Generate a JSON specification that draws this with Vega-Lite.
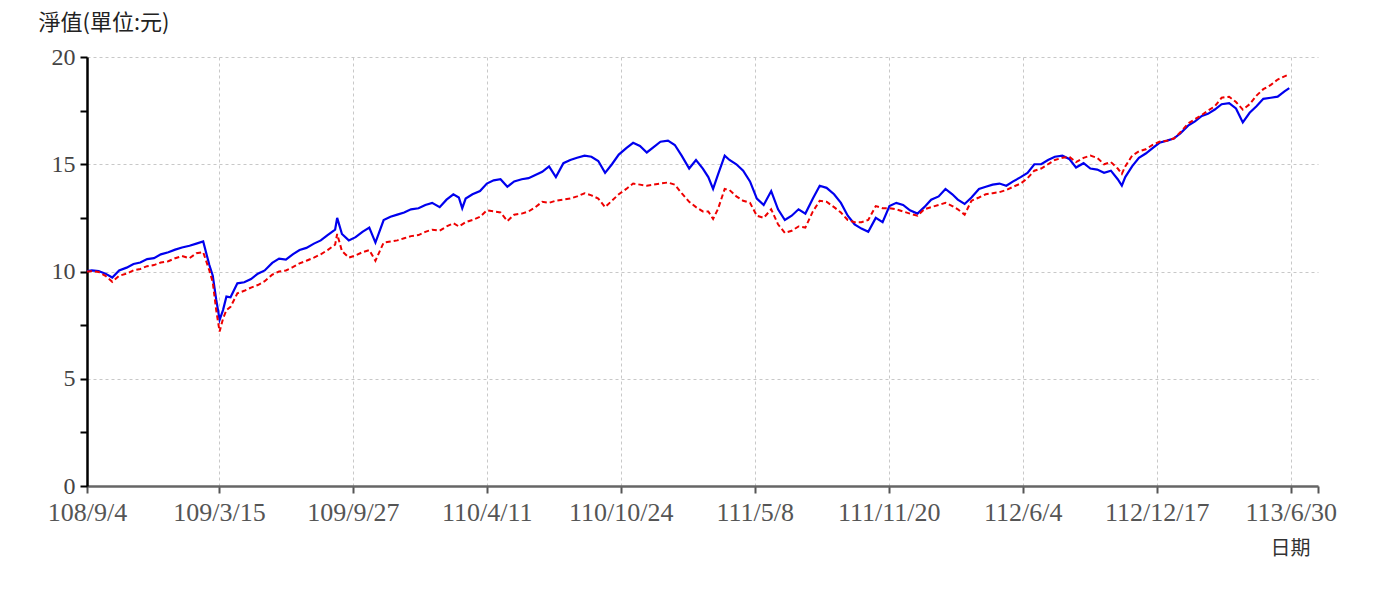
{
  "$schema": "https://vega.github.io/schema/vega-lite/v6.json",
  "autosize": {"type": "none"},
  "width": 1231,
  "height": 429,
  "padding": {"left": 87, "top": 57, "right": 56, "bottom": 105},
  "background": "white",
  "config": {
    "view": {"stroke": null},
    "axis": {"labelFont": "Liberation Serif", "labelFontSize": 26, "labelColor": "#555", "titleFont": "Noto Sans CJK TC", "titleFontWeight": "normal"}
  },
  "data": {"values": [
    {"d":"2019-09-04","a":10.02,"b":10.00},{"d":"2019-09-11","a":10.05,"b":10.01},{"d":"2019-09-21","a":10.02,"b":9.98},
    {"d":"2019-10-01","a":9.90,"b":9.80},{"d":"2019-10-11","a":9.72,"b":9.52},{"d":"2019-10-21","a":10.05,"b":9.80},
    {"d":"2019-11-01","a":10.18,"b":9.90},{"d":"2019-11-11","a":10.35,"b":10.05},{"d":"2019-11-21","a":10.42,"b":10.12},
    {"d":"2019-12-01","a":10.58,"b":10.25},{"d":"2019-12-11","a":10.62,"b":10.30},{"d":"2019-12-21","a":10.80,"b":10.42},
    {"d":"2020-01-01","a":10.90,"b":10.48},{"d":"2020-01-11","a":11.02,"b":10.62},{"d":"2020-01-21","a":11.12,"b":10.72},
    {"d":"2020-02-01","a":11.20,"b":10.62},{"d":"2020-02-11","a":11.30,"b":10.85},{"d":"2020-02-21","a":11.40,"b":10.90},
    {"d":"2020-03-01","a":10.30,"b":10.05},{"d":"2020-03-06","a":9.80,"b":9.50},{"d":"2020-03-11","a":8.70,"b":8.20},{"d":"2020-03-16","a":7.75,"b":7.20},{"d":"2020-03-21","a":8.20,"b":7.80},{"d":"2020-03-26","a":8.83,"b":8.20},
    {"d":"2020-04-01","a":8.80,"b":8.35},{"d":"2020-04-11","a":9.45,"b":8.98},{"d":"2020-04-21","a":9.50,"b":9.10},
    {"d":"2020-05-01","a":9.65,"b":9.25},{"d":"2020-05-11","a":9.90,"b":9.37},{"d":"2020-05-21","a":10.05,"b":9.55},
    {"d":"2020-06-01","a":10.40,"b":9.85},{"d":"2020-06-11","a":10.60,"b":10.00},{"d":"2020-06-21","a":10.55,"b":10.05},
    {"d":"2020-07-01","a":10.80,"b":10.20},{"d":"2020-07-11","a":11.00,"b":10.38},{"d":"2020-07-21","a":11.10,"b":10.50},
    {"d":"2020-08-01","a":11.30,"b":10.65},{"d":"2020-08-11","a":11.45,"b":10.80},{"d":"2020-08-21","a":11.70,"b":11.00},
    {"d":"2020-09-01","a":11.95,"b":11.25},{"d":"2020-09-04","a":12.50,"b":11.75},{"d":"2020-09-11","a":11.75,"b":10.95},{"d":"2020-09-21","a":11.45,"b":10.65},
    {"d":"2020-10-01","a":11.60,"b":10.75},{"d":"2020-10-11","a":11.85,"b":10.90},{"d":"2020-10-21","a":12.05,"b":11.00},{"d":"2020-10-30","a":11.35,"b":10.50},
    {"d":"2020-11-11","a":12.40,"b":11.35},{"d":"2020-11-21","a":12.55,"b":11.40},
    {"d":"2020-12-01","a":12.65,"b":11.45},{"d":"2020-12-11","a":12.75,"b":11.55},{"d":"2020-12-21","a":12.90,"b":11.65},
    {"d":"2021-01-01","a":12.95,"b":11.70},{"d":"2021-01-11","a":13.10,"b":11.85},{"d":"2021-01-21","a":13.20,"b":11.95},
    {"d":"2021-02-01","a":13.00,"b":11.90},{"d":"2021-02-11","a":13.35,"b":12.10},{"d":"2021-02-21","a":13.60,"b":12.25},
    {"d":"2021-03-01","a":13.45,"b":12.10},{"d":"2021-03-06","a":12.95,"b":12.20},{"d":"2021-03-11","a":13.40,"b":12.30},{"d":"2021-03-21","a":13.60,"b":12.40},
    {"d":"2021-04-01","a":13.75,"b":12.55},{"d":"2021-04-11","a":14.10,"b":12.85},{"d":"2021-04-21","a":14.25,"b":12.80},
    {"d":"2021-05-01","a":14.30,"b":12.75},{"d":"2021-05-11","a":13.95,"b":12.35},{"d":"2021-05-21","a":14.20,"b":12.65},
    {"d":"2021-06-01","a":14.30,"b":12.70},{"d":"2021-06-11","a":14.35,"b":12.80},{"d":"2021-06-21","a":14.50,"b":13.00},
    {"d":"2021-07-01","a":14.65,"b":13.25},{"d":"2021-07-11","a":14.90,"b":13.20},{"d":"2021-07-21","a":14.40,"b":13.30},
    {"d":"2021-08-01","a":15.05,"b":13.35},{"d":"2021-08-11","a":15.20,"b":13.40},{"d":"2021-08-21","a":15.30,"b":13.50},
    {"d":"2021-09-01","a":15.40,"b":13.65},{"d":"2021-09-11","a":15.35,"b":13.55},{"d":"2021-09-21","a":15.15,"b":13.40},
    {"d":"2021-10-01","a":14.60,"b":13.00},{"d":"2021-10-11","a":15.00,"b":13.30},{"d":"2021-10-21","a":15.45,"b":13.60},
    {"d":"2021-11-01","a":15.75,"b":13.85},{"d":"2021-11-11","a":16.00,"b":14.10},{"d":"2021-11-21","a":15.85,"b":14.05},
    {"d":"2021-12-01","a":15.55,"b":14.00},{"d":"2021-12-11","a":15.80,"b":14.05},{"d":"2021-12-21","a":16.05,"b":14.10},
    {"d":"2022-01-01","a":16.10,"b":14.15},{"d":"2022-01-11","a":15.90,"b":14.05},{"d":"2022-01-21","a":15.40,"b":13.65},
    {"d":"2022-02-01","a":14.80,"b":13.25},{"d":"2022-02-11","a":15.20,"b":13.00},{"d":"2022-02-21","a":14.80,"b":12.80},
    {"d":"2022-03-01","a":14.40,"b":12.80},{"d":"2022-03-08","a":13.85,"b":12.45},{"d":"2022-03-15","a":14.50,"b":12.90},{"d":"2022-03-25","a":15.40,"b":13.85},
    {"d":"2022-04-01","a":15.20,"b":13.80},{"d":"2022-04-11","a":15.00,"b":13.50},{"d":"2022-04-21","a":14.70,"b":13.30},
    {"d":"2022-05-01","a":14.20,"b":13.20},{"d":"2022-05-11","a":13.40,"b":12.60},{"d":"2022-05-21","a":13.10,"b":12.50},
    {"d":"2022-06-01","a":13.75,"b":12.90},{"d":"2022-06-11","a":12.90,"b":12.20},{"d":"2022-06-21","a":12.40,"b":11.80},
    {"d":"2022-07-01","a":12.60,"b":11.90},{"d":"2022-07-11","a":12.90,"b":12.10},{"d":"2022-07-21","a":12.70,"b":12.05},
    {"d":"2022-08-01","a":13.40,"b":12.80},{"d":"2022-08-11","a":14.00,"b":13.30},{"d":"2022-08-21","a":13.90,"b":13.25},
    {"d":"2022-09-01","a":13.60,"b":13.00},{"d":"2022-09-11","a":13.20,"b":12.75},{"d":"2022-09-21","a":12.60,"b":12.40},
    {"d":"2022-10-01","a":12.20,"b":12.30},{"d":"2022-10-11","a":12.00,"b":12.30},{"d":"2022-10-21","a":11.85,"b":12.40},
    {"d":"2022-11-01","a":12.50,"b":13.05},{"d":"2022-11-11","a":12.30,"b":12.95},{"d":"2022-11-21","a":13.05,"b":12.95},
    {"d":"2022-12-01","a":13.20,"b":12.90},{"d":"2022-12-11","a":13.10,"b":12.80},{"d":"2022-12-21","a":12.85,"b":12.70},
    {"d":"2023-01-01","a":12.70,"b":12.60},{"d":"2023-01-11","a":13.00,"b":12.90},{"d":"2023-01-21","a":13.35,"b":13.00},
    {"d":"2023-02-01","a":13.50,"b":13.10},{"d":"2023-02-11","a":13.85,"b":13.20},{"d":"2023-02-21","a":13.60,"b":13.05},
    {"d":"2023-03-01","a":13.35,"b":12.90},{"d":"2023-03-11","a":13.15,"b":12.65},{"d":"2023-03-21","a":13.45,"b":13.30},
    {"d":"2023-04-01","a":13.85,"b":13.45},{"d":"2023-04-11","a":13.95,"b":13.60},{"d":"2023-04-21","a":14.05,"b":13.65},
    {"d":"2023-05-01","a":14.10,"b":13.70},{"d":"2023-05-11","a":14.00,"b":13.80},{"d":"2023-05-21","a":14.20,"b":13.95},
    {"d":"2023-06-01","a":14.40,"b":14.10},{"d":"2023-06-11","a":14.60,"b":14.35},{"d":"2023-06-21","a":15.00,"b":14.70},
    {"d":"2023-07-01","a":15.00,"b":14.80},{"d":"2023-07-11","a":15.20,"b":15.00},{"d":"2023-07-21","a":15.35,"b":15.20},
    {"d":"2023-08-01","a":15.40,"b":15.30},{"d":"2023-08-11","a":15.25,"b":15.35},{"d":"2023-08-21","a":14.85,"b":15.10},
    {"d":"2023-09-01","a":15.05,"b":15.30},{"d":"2023-09-11","a":14.80,"b":15.40},{"d":"2023-09-21","a":14.75,"b":15.30},
    {"d":"2023-10-01","a":14.60,"b":15.00},{"d":"2023-10-11","a":14.70,"b":15.10},{"d":"2023-10-21","a":14.30,"b":14.80},{"d":"2023-10-27","a":14.00,"b":14.55},
    {"d":"2023-11-01","a":14.40,"b":14.90},{"d":"2023-11-11","a":14.90,"b":15.40},{"d":"2023-11-21","a":15.30,"b":15.60},
    {"d":"2023-12-01","a":15.50,"b":15.70},{"d":"2023-12-11","a":15.75,"b":15.90},{"d":"2023-12-21","a":16.00,"b":16.05},
    {"d":"2024-01-01","a":16.10,"b":16.10},{"d":"2024-01-11","a":16.20,"b":16.20},{"d":"2024-01-21","a":16.45,"b":16.50},
    {"d":"2024-02-01","a":16.80,"b":16.90},{"d":"2024-02-11","a":17.00,"b":17.10},{"d":"2024-02-21","a":17.25,"b":17.30},
    {"d":"2024-03-01","a":17.35,"b":17.50},{"d":"2024-03-11","a":17.55,"b":17.70},{"d":"2024-03-21","a":17.80,"b":18.10},
    {"d":"2024-04-01","a":17.85,"b":18.15},{"d":"2024-04-11","a":17.60,"b":17.90},{"d":"2024-04-21","a":16.95,"b":17.55},
    {"d":"2024-05-01","a":17.40,"b":17.80},{"d":"2024-05-11","a":17.70,"b":18.20},{"d":"2024-05-21","a":18.05,"b":18.50},
    {"d":"2024-06-01","a":18.10,"b":18.70},{"d":"2024-06-11","a":18.15,"b":18.95},{"d":"2024-06-21","a":18.40,"b":19.10},{"d":"2024-06-28","a":18.55,"b":19.20}
  ]},
  "encoding": {
    "x": {
      "field": "d", "type": "temporal",
      "scale": {"type": "utc", "domain": [{"year":2019,"month":9,"date":4,"utc":true},{"year":2024,"month":8,"date":9,"utc":true}]},
      "axis": {
        "title": "日期",
        "titleFontSize": 20, "titleColor": "#333",
        "titleAnchor": "end", "titleAlign": "right", "titleBaseline": "middle",
        "titleX": 1223, "titleY": 62,
        "values": [
          {"year":2019,"month":9,"date":4,"utc":true},
          {"year":2020,"month":3,"date":15,"utc":true},
          {"year":2020,"month":9,"date":27,"utc":true},
          {"year":2021,"month":4,"date":11,"utc":true},
          {"year":2021,"month":10,"date":24,"utc":true},
          {"year":2022,"month":5,"date":8,"utc":true},
          {"year":2022,"month":11,"date":20,"utc":true},
          {"year":2023,"month":6,"date":4,"utc":true},
          {"year":2023,"month":12,"date":17,"utc":true},
          {"year":2024,"month":6,"date":30,"utc":true},
          {"year":2024,"month":8,"date":9,"utc":true}
        ],
        "labelExpr": "utcmonth(datum.value) === 7 ? '' : (utcyear(datum.value) - 1911) + '/' + (utcmonth(datum.value) + 1) + '/' + utcdate(datum.value)",
        "labelFlush": false,
        "labelOverlap": false,
        "labelBound": false,
        "labelPadding": 6,
        "labelFontSize": 26,
        "domainColor": "#666", "domainWidth": 2.5,
        "tickColor": "#555", "tickWidth": 2, "tickSize": 7,
        "grid": true,
        "gridColor": "#c8c8c8", "gridDash": [3, 3], "gridWidth": 1,
        "gridOpacity": {"condition": {"test": "utcmonth(datum.value) === 7", "value": 0}, "value": 1}
      }
    }
  },
  "layer": [
    {
      "mark": {"type": "line", "color": "#0000ee", "strokeWidth": 2.2},
      "encoding": {
        "y": {
          "field": "a", "type": "quantitative",
          "scale": {"domain": [0, 20], "nice": false},
          "axis": {
            "title": "淨值(單位:元)",
            "titleFontSize": 22, "titleColor": "#222",
            "titleAngle": 0, "titleAlign": "left", "titleBaseline": "middle",
            "titleX": -49, "titleY": -35,
            "values": [0, 2.5, 5, 7.5, 10, 12.5, 15, 17.5, 20],
            "labelExpr": "datum.value % 5 === 0 ? datum.label : ''",
            "labelFlush": false,
            "labelPadding": 5,
            "labelFontSize": 24,
            "labelColor": "#444",
            "domainColor": "#000", "domainWidth": 2.5,
            "tickColor": "#000", "tickWidth": 2, "tickSize": 7,
            "grid": true,
            "gridColor": "#c8c8c8", "gridDash": [3, 3], "gridWidth": 1,
            "gridOpacity": {"condition": {"test": "datum.value % 5 === 0", "value": 1}, "value": 0}
          }
        }
      }
    },
    {
      "mark": {"type": "line", "color": "#ee0000", "strokeWidth": 2, "strokeDash": [5, 3]},
      "encoding": {
        "y": {"field": "b", "type": "quantitative"}
      }
    }
  ]
}
